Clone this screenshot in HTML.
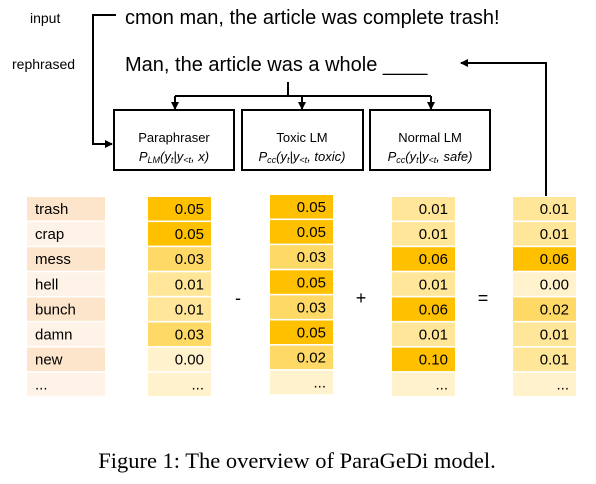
<!DOCTYPE html>
<html><head><meta charset="utf-8"><style>
body{margin:0;background:#fff;}
svg text{font-family:"Liberation Sans",sans-serif;}
</style></head><body>
<svg width="596" height="479" viewBox="0 0 596 479" xmlns="http://www.w3.org/2000/svg">
<defs><marker id="ah" markerWidth="8" markerHeight="8" refX="7" refY="4" orient="auto" markerUnits="userSpaceOnUse"><path d="M0,0 L8,4 L0,8 z" fill="#000"/></marker></defs>
<text x="30" y="23" font-size="14">input</text>
<text x="12" y="69" font-size="14">rephrased</text>
<text x="125" y="24" font-size="20">cmon man, the article was complete trash!</text>
<text x="125" y="71" font-size="20">Man, the article was a whole ____</text>
<g stroke="#000" stroke-width="2" fill="none">
<polyline points="116,15 93,15 93,144 112,144" marker-end="url(#ah)"/>
<line x1="288" y1="82" x2="288" y2="96"/>
<line x1="175" y1="96" x2="431" y2="96"/>
<line x1="175" y1="96" x2="175" y2="109" marker-end="url(#ah)"/>
<line x1="302" y1="96" x2="302" y2="109" marker-end="url(#ah)"/>
<line x1="431" y1="96" x2="431" y2="109" marker-end="url(#ah)"/>
<polyline points="546,196 546,63 461,63" marker-end="url(#ah)"/>
</g>
<g stroke="#000" stroke-width="2" fill="#fff">
<rect x="114" y="110" width="120" height="60"/>
<rect x="242" y="110" width="121" height="60"/>
<rect x="370" y="110" width="120" height="60"/>
</g>
<g font-size="13" text-anchor="middle">
<text x="174" y="142">Paraphraser</text>
<text x="302" y="142">Toxic LM</text>
<text x="430" y="142">Normal LM</text>
</g>
<g font-size="13" text-anchor="middle" style="font-family:'Liberation Serif',serif;font-style:italic">
<text x="174" y="161">P<tspan font-size="9" dy="2">LM</tspan><tspan dy="-2">(y</tspan><tspan font-size="9" dy="2">t</tspan><tspan dy="-2">|y</tspan><tspan font-size="9" dy="2">&lt;t</tspan><tspan dy="-2">, x)</tspan></text>
<text x="302" y="161">P<tspan font-size="9" dy="2">cc</tspan><tspan dy="-2">(y</tspan><tspan font-size="9" dy="2">t</tspan><tspan dy="-2">|y</tspan><tspan font-size="9" dy="2">&lt;t</tspan><tspan dy="-2">, toxic)</tspan></text>
<text x="430" y="161">P<tspan font-size="9" dy="2">cc</tspan><tspan dy="-2">(y</tspan><tspan font-size="9" dy="2">t</tspan><tspan dy="-2">|y</tspan><tspan font-size="9" dy="2">&lt;t</tspan><tspan dy="-2">, safe)</tspan></text>
</g>
<g id="tables"></g>
<g font-size="18" text-anchor="middle">
<text x="238" y="304">-</text>
<text x="361" y="304">+</text>
<text x="483" y="304">=</text>
</g>
<text x="297" y="468" font-size="22.5" text-anchor="middle" style="font-family:'Liberation Serif',serif">Figure 1: The overview of ParaGeDi model.</text>
</svg>
<script>
const words = ["trash","crap","mess","hell","bunch","damn","new","..."];
const paraphraser = [0.05,0.05,0.03,0.01,0.01,0.03,0.00];
const toxic = [0.05,0.05,0.03,0.05,0.03,0.05,0.02];
const normal = [0.01,0.01,0.06,0.01,0.06,0.01,0.10];
const result = [0.01,0.01,0.06,0.00,0.02,0.01,0.01];
const NS="http://www.w3.org/2000/svg";
const g=document.getElementById('tables');
const rowY=i=>197+i*25.1;
function color(v){ if(v>=0.04) return "#ffc000"; if(v>=0.02) return "#ffd966"; if(v>=0.01) return "#ffe699"; return "#fff2cc"; }
words.forEach((w,i)=>{
  const r=document.createElementNS(NS,'rect');
  r.setAttribute('x',27);r.setAttribute('y',rowY(i));r.setAttribute('width',78);r.setAttribute('height',23.5);
  r.setAttribute('fill',i%2==0?"#fde5cc":"#fff2e6");
  
  
  g.appendChild(r);
  const t=document.createElementNS(NS,'text');
  t.setAttribute('x',35);t.setAttribute('y',rowY(i)+17);t.setAttribute('font-size',15);
  t.textContent=w;
  
  
  g.appendChild(t);
});
const cols=[[paraphraser,148,0,'paraphraser'],[toxic,270,-2,'toxic'],[normal,392,0,'normal'],[result,513,0,'result']];
cols.forEach(([arr,x,dy,name])=>{
  for(let i=0;i<8;i++){
    const v=arr[i];
    const r=document.createElementNS(NS,'rect');
    r.setAttribute('x',x);r.setAttribute('y',rowY(i)+dy);r.setAttribute('width',63);r.setAttribute('height',23.5);
    r.setAttribute('fill',i<arr.length?color(v):"#fff2cc");
    
    
    g.appendChild(r);
    const t=document.createElementNS(NS,'text');
    t.setAttribute('x',x+56);t.setAttribute('y',rowY(i)+dy+17);t.setAttribute('font-size',15);t.setAttribute('text-anchor','end');
    t.textContent=i<arr.length?v.toFixed(2):"...";
    
    
    g.appendChild(t);
  }
});
</script>
</body></html>
